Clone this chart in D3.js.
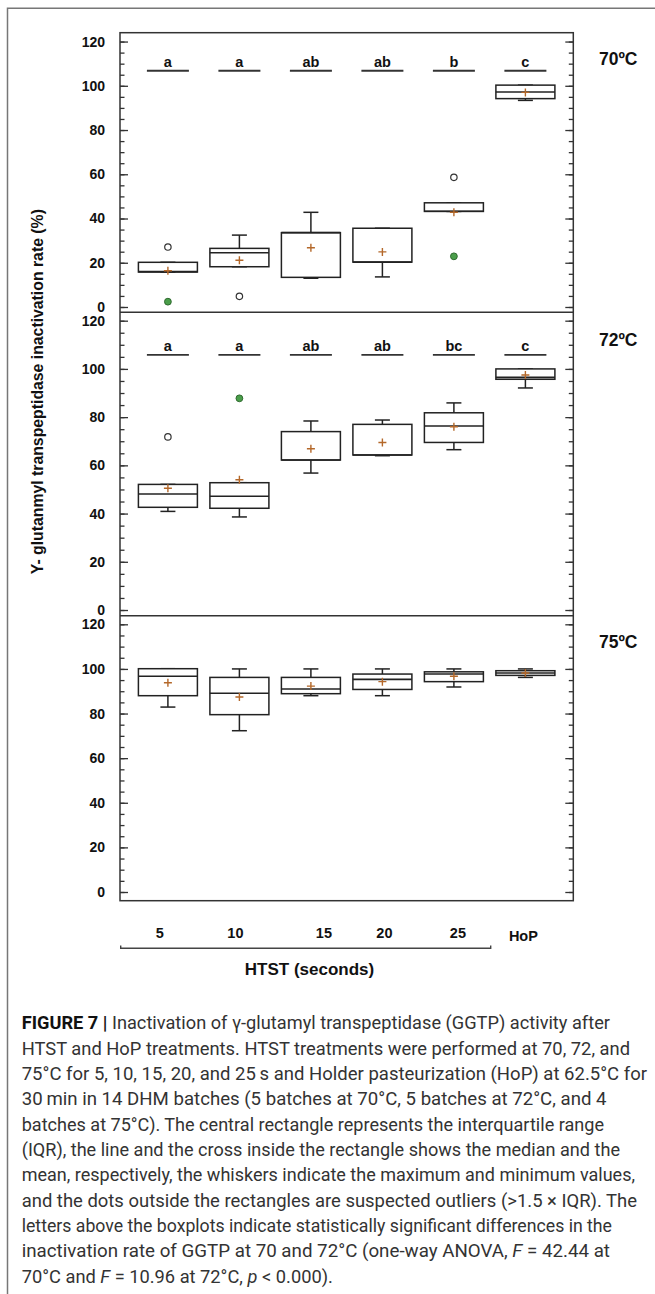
<!DOCTYPE html>
<html>
<head>
<meta charset="utf-8">
<script src="https://cdn.jsdelivr.net/npm/d3@7"></script>
<style>
  body { margin: 0; background: #fff; }
  svg { display: block; }
</style>
</head>
<body>
<div id="container"></div>
<script>
// categories (HTST seconds + HoP)
let categories = ['5', '10', '15', '20', '25', 'HoP'];
let panelLabels = ['70ºC', '72ºC', '75ºC'];
let yTicks = [0, 20, 40, 60, 80, 100, 120];

// 70 ºC
let q1_70 = [15.8, 18.2, 13.4, 20.3, 43.2, 94.2];
let med_70 = [16.0, 24.5, 33.6, 20.3, 43.3, 97.2];
let q3_70 = [20.2, 26.5, 33.6, 35.6, 47.1, 100.3];
let min_70 = [15.8, 18.2, 13.0, 13.6, 43.2, 93.4];
let max_70 = [20.2, 32.5, 42.8, 35.6, 47.1, 100.3];
let mean_70 = [16.4, 21.1, 26.8, 24.9, 42.8, 97.0];
let openOut_70 = [27.1, 4.8, null, null, 58.6, null];
let greenOut_70 = [2.4, null, null, null, 22.9, null];
let letters_70 = ['a', 'a', 'ab', 'ab', 'b', 'c'];
let letterLevel_70 = 106.8;

// 72 ºC
let q1_72 = [42.6, 42.2, 62.2, 64.3, 69.5, 95.7];
let med_72 = [48.1, 47.2, 62.2, 64.3, 76.3, 96.5];
let q3_72 = [52.1, 52.8, 74.0, 77.0, 81.8, 100.0];
let min_72 = [40.9, 38.6, 56.8, 64.0, 66.5, 92.1];
let max_72 = [52.1, 52.8, 78.4, 78.8, 85.9, 100.0];
let mean_72 = [50.5, 54.0, 66.9, 69.5, 76.0, 97.5];
let openOut_72 = [71.8, null, null, null, null, null];
let greenOut_72 = [null, 87.8, null, null, null, null];
let letters_72 = ['a', 'a', 'ab', 'ab', 'bc', 'c'];
let letterLevel_72 = 105.8;

// 75 ºC
let q1_75 = [88.0, 79.5, 88.9, 90.8, 94.3, 97.1];
let med_75 = [96.7, 89.1, 91.0, 95.3, 97.7, 98.2];
let q3_75 = [100.1, 96.2, 96.2, 97.7, 98.7, 99.2];
let min_75 = [82.9, 72.3, 88.0, 88.0, 91.9, 96.2];
let max_75 = [100.1, 100.0, 100.0, 100.0, 100.0, 100.0];
let mean_75 = [93.8, 87.4, 92.3, 94.3, 96.7, 98.2];

let captionLines = [
  [['b', 'FIGURE 7 | '], ['n', 'Inactivation of γ-glutamyl transpeptidase (GGTP) activity after']],
  [['n', 'HTST and HoP treatments. HTST treatments were performed at 70, 72, and']],
  [['n', '75°C for 5, 10, 15, 20, and 25\u2009s and Holder pasteurization (HoP) at 62.5°C for']],
  [['n', '30\u2009min in 14 DHM batches (5 batches at 70°C, 5 batches at 72°C, and 4']],
  [['n', 'batches at 75°C). The central rectangle represents the interquartile range']],
  [['n', '(IQR), the line and the cross inside the rectangle shows the median and the']],
  [['n', 'mean, respectively, the whiskers indicate the maximum and minimum values,']],
  [['n', 'and the dots outside the rectangles are suspected outliers (>1.5 × IQR). The']],
  [['n', 'letters above the boxplots indicate statistically significant differences in the']],
  [['n', 'inactivation rate of GGTP at 70 and 72°C (one-way ANOVA, '], ['i', 'F'], ['n', ' = 42.44 at']],
  [['n', '70°C and '], ['i', 'F'], ['n', ' = 10.96 at 72°C, '], ['i', 'p'], ['n', ' < 0.000).']]
];
let captionEnds = [610, 630, 647, 606.5, 604, 620, 635, 637, 612, 610, null];

let panels = [
  { q1: q1_70, med: med_70, q3: q3_70, min: min_70, max: max_70, mean: mean_70,
    open: openOut_70, green: greenOut_70, letters: letters_70, level: letterLevel_70 },
  { q1: q1_72, med: med_72, q3: q3_72, min: min_72, max: max_72, mean: mean_72,
    open: openOut_72, green: greenOut_72, letters: letters_72, level: letterLevel_72 },
  { q1: q1_75, med: med_75, q3: q3_75, min: min_75, max: max_75, mean: mean_75,
    open: null, green: null, letters: null }
];

// layout
let svgWidth = 655, svgHeight = 1294;
let plotLeft = 120, plotRight = 573.3;
let panelTop = [32.7, 312.3, 615.7];
let panelBottom = [312.3, 615.7, 900.7];
let panelDomain = [[-2.4, 124.0], [-2.36, 123.48], [-3.9, 123.86]];
let boxWidth = 59, capWidth = 15;
let font = "'Liberation Sans', Arial, sans-serif";
let ink = '#222';

let svg = d3.select('#container')
  .append('svg')
  .attr('width', svgWidth)
  .attr('height', svgHeight);

// figure frame
svg.append('path')
  .attr('d', 'M7.5,' + svgHeight + 'V8.3H' + svgWidth)
  .attr('fill', 'none')
  .attr('stroke', '#777')
  .attr('stroke-width', 1.5);

let x = d3.scalePoint()
  .domain(categories)
  .range([plotLeft, plotRight])
  .padding(0.67);

panels.forEach((p, k) => {
  let y = d3.scaleLinear()
    .domain(panelDomain[k])
    .range([panelBottom[k], panelTop[k]]);

  let g = svg.append('g');

  // axes (ticks inside)
  let minor = d3.range(0, 121, 5);
  g.append('g').attr('transform', 'translate(' + plotLeft + ',0)')
    .call(d3.axisLeft(y).tickValues(minor).tickSize(-4.5).tickSizeOuter(0).tickFormat(''));
  g.append('g').attr('transform', 'translate(' + plotLeft + ',0)')
    .call(d3.axisLeft(y).tickValues(yTicks).tickSize(-8).tickSizeOuter(0).tickPadding(15))
    .selectAll('text')
    .attr('font-family', font).attr('font-weight', 'bold').attr('font-size', 14).attr('fill', '#111');
  g.append('g').attr('transform', 'translate(' + plotRight + ',0)')
    .call(d3.axisRight(y).tickValues(minor).tickSize(-4.5).tickSizeOuter(0).tickFormat(''));
  g.append('g').attr('transform', 'translate(' + plotRight + ',0)')
    .call(d3.axisRight(y).tickValues(yTicks).tickSize(-8).tickSizeOuter(0).tickFormat(''));
  g.selectAll('.domain').remove();
  g.selectAll('.tick line').attr('stroke', '#333').attr('stroke-width', 1.3);

  // whiskers
  let rows = categories.map((c, i) => ({ c: c, i: i }));
  let wh = g.selectAll('.wh').data(rows).enter().append('g');
  wh.append('line')
    .attr('x1', d => x(d.c)).attr('x2', d => x(d.c))
    .attr('y1', d => y(p.q3[d.i])).attr('y2', d => y(p.max[d.i]))
    .attr('stroke', ink).attr('stroke-width', 1.5);
  wh.append('line')
    .attr('x1', d => x(d.c)).attr('x2', d => x(d.c))
    .attr('y1', d => y(p.q1[d.i])).attr('y2', d => y(p.min[d.i]))
    .attr('stroke', ink).attr('stroke-width', 1.5);
  wh.append('line')
    .attr('x1', d => x(d.c) - capWidth / 2).attr('x2', d => x(d.c) + capWidth / 2)
    .attr('y1', d => y(p.max[d.i])).attr('y2', d => y(p.max[d.i]))
    .attr('stroke', ink).attr('stroke-width', 1.5);
  wh.append('line')
    .attr('x1', d => x(d.c) - capWidth / 2).attr('x2', d => x(d.c) + capWidth / 2)
    .attr('y1', d => y(p.min[d.i])).attr('y2', d => y(p.min[d.i]))
    .attr('stroke', ink).attr('stroke-width', 1.5);

  // boxes
  g.selectAll('.box').data(rows).enter().append('rect')
    .attr('x', d => x(d.c) - boxWidth / 2)
    .attr('width', boxWidth)
    .attr('y', d => y(p.q3[d.i]))
    .attr('height', d => y(p.q1[d.i]) - y(p.q3[d.i]))
    .attr('fill', '#fff')
    .attr('stroke', ink).attr('stroke-width', 1.5);
  g.selectAll('.med').data(rows).enter().append('line')
    .attr('x1', d => x(d.c) - boxWidth / 2).attr('x2', d => x(d.c) + boxWidth / 2)
    .attr('y1', d => y(p.med[d.i])).attr('y2', d => y(p.med[d.i]))
    .attr('stroke', ink).attr('stroke-width', 1.6);

  // means
  g.selectAll('.mean').data(rows).enter().append('path')
    .attr('d', d => {
      let cx = x(d.c), cy = y(p.mean[d.i]);
      return 'M' + (cx - 4) + ',' + cy + 'H' + (cx + 4) + 'M' + cx + ',' + (cy - 4) + 'V' + (cy + 4);
    })
    .attr('stroke', '#b4682a').attr('stroke-width', 1.4).attr('fill', 'none');

  // outliers
  if (p.open) {
    g.selectAll('.open').data(rows.filter(d => p.open[d.i] != null)).enter().append('circle')
      .attr('cx', d => x(d.c)).attr('cy', d => y(p.open[d.i])).attr('r', 3.2)
      .attr('fill', '#fff').attr('stroke', '#333').attr('stroke-width', 1.2);
  }
  if (p.green) {
    g.selectAll('.green').data(rows.filter(d => p.green[d.i] != null)).enter().append('circle')
      .attr('cx', d => x(d.c)).attr('cy', d => y(p.green[d.i])).attr('r', 3.4)
      .attr('fill', '#4a9e4a').attr('stroke', '#2f6a2f').attr('stroke-width', 1);
  }

  // significance letters
  if (p.letters) {
    g.selectAll('.lline').data(rows).enter().append('line')
      .attr('x1', d => x(d.c) - 21).attr('x2', d => x(d.c) + 21)
      .attr('y1', y(p.level)).attr('y2', y(p.level))
      .attr('stroke', '#333').attr('stroke-width', 1.8);
    g.selectAll('.ltext').data(rows).enter().append('text')
      .attr('x', d => x(d.c)).attr('y', y(p.level) - 4)
      .attr('text-anchor', 'middle')
      .attr('font-family', font).attr('font-weight', 'bold').attr('font-size', 14.5).attr('fill', '#111')
      .text(d => p.letters[d.i]);
  }

  // temperature label
  svg.append('text')
    .attr('x', 599).attr('y', y(112) + 6)
    .attr('font-family', font).attr('font-weight', 'bold').attr('font-size', 17.5).attr('fill', '#111')
    .text(panelLabels[k]);
});

// frame lines: left/right axis, top, separators, bottom
svg.append('rect')
  .attr('x', plotLeft).attr('y', panelTop[0])
  .attr('width', plotRight - plotLeft).attr('height', panelBottom[2] - panelTop[0])
  .attr('fill', 'none').attr('stroke', '#333').attr('stroke-width', 1.5);
svg.selectAll('.sep').data([panelBottom[0], panelBottom[1]]).enter().append('line')
  .attr('x1', plotLeft).attr('x2', plotRight)
  .attr('y1', d => d).attr('y2', d => d)
  .attr('stroke', '#333').attr('stroke-width', 1.5);

// x labels
let labelNudge = [-8, -4, 13, 2, 4, -2];
svg.selectAll('.xl').data(categories).enter().append('text')
  .attr('x', (d, i) => x(d) + labelNudge[i])
  .attr('y', (d, i) => i === 5 ? 941 : 938.3)
  .attr('text-anchor', 'middle')
  .attr('font-family', font).attr('font-weight', 'bold').attr('font-size', 14.5).attr('fill', '#111')
  .text(d => d);

// HTST bracket
svg.append('path')
  .attr('d', 'M120.7,945.5V948.3H490.7V945.5')
  .attr('fill', 'none').attr('stroke', '#444').attr('stroke-width', 1.4);
svg.append('text')
  .attr('x', 309.5).attr('y', 975)
  .attr('text-anchor', 'middle')
  .attr('font-family', font).attr('font-weight', 'bold').attr('font-size', 17).attr('fill', '#111')
  .text('HTST (seconds)');

// y title
svg.append('text')
  .attr('transform', 'translate(43,391.7) rotate(-90)')
  .attr('text-anchor', 'middle')
  .attr('font-family', font).attr('font-weight', 'bold').attr('font-size', 15.8).attr('fill', '#111')
  .text('Y- glutanmyl transpeptidase inactivation rate (%)');

// caption
let capFont = "'Liberation Sans Narrow', 'Roboto', 'Liberation Sans', sans-serif";
let ratios = [];
let capNodes = [];
captionLines.forEach((line, i) => {
  let t = svg.append('text')
    .attr('x', 21.7).attr('y', 1029.3 + 25.33 * i)
    .attr('font-family', capFont).attr('font-size', 17.5).attr('fill', '#333');
  line.forEach(seg => {
    let s = t.append('tspan').text(seg[1]);
    if (seg[0] === 'b') s.attr('font-weight', 'bold').attr('fill', '#111');
    if (seg[0] === 'i') s.attr('font-style', 'italic');
  });
  capNodes.push(t);
  if (captionEnds[i] != null) {
    let w = t.node().getComputedTextLength();
    ratios.push((captionEnds[i] - 21.7) / w);
  }
});
let avgRatio = d3.mean(ratios);
capNodes.forEach((t, i) => {
  let target = captionEnds[i] != null ? captionEnds[i] - 21.7 : t.node().getComputedTextLength() * avgRatio;
  t.attr('textLength', target).attr('lengthAdjust', 'spacingAndGlyphs');
});
</script>
</body>
</html>
